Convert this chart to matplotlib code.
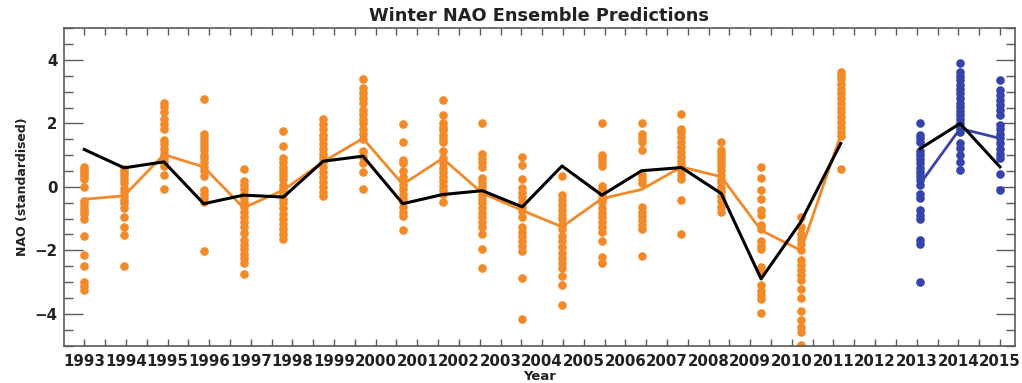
import numpy as np
import matplotlib.pyplot as plt
from matplotlib.ticker import MultipleLocator

# x axis labels (one per tick pair)
year_labels = [str(y) for y in range(1993, 2016)]

# data slots: 20 hindcast winters, a gap, then 3 forecast winters
hind_slots = list(range(0, 20))
fcst_slots = [21, 22, 23]

# observed NAO (black)
obs_hind = [1.18, 0.60, 0.79, -0.53, -0.26, -0.32, 0.81, 0.97, -0.53, -0.24,
            -0.12, -0.63, 0.66, -0.26, 0.51, 0.61, -0.21, -2.90, -1.10, 1.37]
obs_fcst = [1.21, 2.00, 0.63]

# ensemble means
ens_hind = [-0.39, -0.28, 1.02, 0.63, -0.66, -0.10, 0.79, 1.53, 0.08, 0.90,
            -0.20, -0.74, -1.26, -0.37, -0.08, 0.63, 0.32, -1.37, -2.00, 1.63]
ens_fcst = [0.11, 1.84, 1.53]

# ensemble members, hindcasts (orange)
members_hind = [
    [0.62, 0.55, 0.47, 0.40, 0.33, 0.25, 0.0, -0.45, -0.55, -0.65, -0.75, -0.85, -1.0,
     -1.55, -2.15, -2.5, -3.0, -3.12, -3.25],
    [0.58, 0.47, 0.37, 0.24, 0.11, -0.03, -0.16, -0.28, -0.42, -0.52, -0.68, -0.95,
     -1.26, -1.53, -2.5],
    [2.66, 2.53, 2.35, 2.14, 1.97, 1.84, 1.48, 1.34, 1.19, 1.05, 0.92, 0.79, 0.66,
     0.39, -0.07],
    [2.77, 1.68, 1.55, 1.42, 1.30, 1.16, 1.02, 0.90, 0.77, 0.63, 0.50, 0.35, -0.10,
     -0.21, -0.35, -0.47, -2.03],
    [0.58, 0.18, 0.05, -0.07, -0.21, -0.35, -0.47, -0.63, -0.79, -0.95, -1.11, -1.26,
     -1.44, -1.68, -1.84, -1.97, -2.11, -2.24, -2.39, -2.74],
    [1.76, 1.30, 0.90, 0.77, 0.63, 0.50, 0.37, 0.24, 0.07, -0.07, -0.21, -0.37, -0.52,
     -0.68, -0.84, -1.00, -1.16, -1.32, -1.48, -1.63],
    [2.14, 1.97, 1.82, 1.65, 1.51, 1.36, 1.21, 1.05, 0.92, 0.79, 0.63, 0.47, 0.32,
     0.16, 0.0, -0.16, -0.28],
    [3.40, 3.11, 2.95, 2.79, 2.63, 2.42, 2.29, 2.14, 2.00, 1.84, 1.68, 1.51, 1.13,
     0.95, 0.74, 0.47, -0.07],
    [1.97, 1.40, 0.84, 0.74, 0.50, 0.32, 0.18, 0.05, -0.07, -0.21, -0.35, -0.47,
     -0.63, -0.79, -0.92, -1.37],
    [2.74, 2.26, 2.00, 1.90, 1.79, 1.65, 1.51, 1.40, 1.13, 0.92, 0.74, 0.60, 0.47,
     0.32, 0.18, 0.03, -0.10, -0.21, -0.47],
    [2.03, 1.05, 0.92, 0.77, 0.63, 0.29, 0.16, 0.03, -0.10, -0.24, -0.37, -0.52,
     -0.66, -0.81, -0.95, -1.11, -1.26, -1.50, -1.97, -2.56],
    [0.95, 0.69, 0.24, -0.05, -0.18, -0.31, -0.47, -0.63, -0.77, -0.95, -1.26, -1.42,
     -1.55, -1.72, -1.87, -2.03, -2.88, -4.16],
    [0.35, -0.26, -0.42, -0.58, -0.74, -0.87, -1.00, -1.19, -1.34, -1.55, -1.72,
     -1.89, -2.07, -2.24, -2.39, -2.56, -2.81, -3.10, -3.72],
    [2.00, 1.02, 0.92, 0.79, 0.66, 0.03, -0.07, -0.21, -0.37, -0.49, -0.66, -0.81,
     -0.95, -1.11, -1.26, -1.42, -1.72, -2.21, -2.39],
    [2.03, 1.68, 1.53, 1.40, 1.16, 0.37, 0.24, 0.11, -0.63, -0.79, -0.92, -1.05,
     -1.19, -1.34, -2.18],
    [2.29, 1.84, 1.72, 1.58, 1.42, 1.26, 1.11, 0.95, 0.81, 0.69, 0.53, 0.39, 0.26,
     -0.42, -1.47],
    [1.42, 1.16, 1.05, 0.92, 0.79, 0.66, 0.53, 0.39, 0.26, 0.14, 0.0, -0.14, -0.28,
     -0.45, -0.63, -0.79],
    [0.63, 0.29, -0.10, -0.37, -0.74, -0.89, -1.19, -1.34, -1.69, -1.87, -1.97,
     -2.53, -2.69, -3.09, -3.27, -3.40, -3.53, -3.97],
    [-0.95, -1.26, -1.47, -1.63, -1.79, -2.00, -2.32, -2.47, -2.63, -2.79, -2.95,
     -3.21, -3.50, -3.90, -4.21, -4.42, -4.58, -4.98],
    [3.63, 3.53, 3.40, 3.23, 3.08, 2.95, 2.81, 2.66, 2.50, 2.35, 2.21, 2.06, 1.90,
     1.74, 1.61, 0.56],
]

# ensemble members, forecasts (blue)
members_fcst = [
    [2.00, 1.65, 1.53, 1.40, 1.13, 1.00, 0.87, 0.74, 0.60, 0.47, 0.35, 0.21, 0.07,
     -0.21, -0.35, -0.74, -0.89, -1.02, -1.68, -1.79, -3.00],
    [3.90, 3.63, 3.51, 3.37, 3.21, 3.08, 2.95, 2.81, 2.66, 2.53, 2.39, 2.26, 2.14,
     2.00, 1.86, 1.74, 1.37, 1.23, 1.02, 0.79, 0.53],
    [3.37, 3.06, 2.90, 2.74, 2.58, 2.42, 2.26, 1.95, 1.82, 1.68, 1.53, 1.37, 1.21,
     1.05, 0.90, 0.42, -0.10],
]

ORANGE = '#f28a2a'
BLUE = '#3644aa'
AXCOL = '#5a5a5a'
TXT = '#222222'

# slot -> x position on the label axis (24 slots spread over 23 labels)
def slot_x(s):
    return np.asarray(s, dtype=float) * 22.0 / 23.0

fig = plt.figure(figsize=(10.22, 3.83), dpi=100)
ax = fig.add_axes([0.0626, 0.0979, 0.9305, 0.8282])

# member dots
for s, vals in zip(hind_slots, members_hind):
    ax.plot(np.full(len(vals), slot_x(s)), vals, 'o', color=ORANGE, ms=6.2,
            mec='none', zorder=2)
for s, vals in zip(fcst_slots, members_fcst):
    ax.plot(np.full(len(vals), slot_x(s)), vals, 'o', color=BLUE, ms=6.2,
            mec='none', zorder=2)

# ensemble mean lines
ax.plot(slot_x(hind_slots), ens_hind, color=ORANGE, lw=2.0, zorder=3)
ax.plot(slot_x(fcst_slots), ens_fcst, color=BLUE, lw=2.0, zorder=3)

# observations
ax.plot(slot_x(hind_slots), obs_hind, color='black', lw=2.2, zorder=4)
ax.plot(slot_x(fcst_slots), obs_fcst, color='black', lw=2.2, zorder=4)

ax.set_xlim(-0.488, 22.36)
ax.set_ylim(-5, 5)

ax.set_xticks(range(len(year_labels)))
ax.set_xticklabels(year_labels, fontweight='bold', color=TXT)
ax.xaxis.set_minor_locator(MultipleLocator(0.5))
ax.yaxis.set_major_locator(MultipleLocator(2))
ax.yaxis.set_minor_locator(MultipleLocator(0.5))
for lab in ax.get_yticklabels():
    lab.set_fontweight('bold')
    lab.set_color(TXT)

ax.tick_params(axis='x', which='both', direction='in', top=True, length=5,
               width=1.0, color=AXCOL, labelsize=10.8, pad=6)
ax.tick_params(axis='y', which='major', direction='in', right=True, length=13.5,
               width=1.0, color=AXCOL, labelsize=10.8, pad=4.5)
ax.tick_params(axis='y', which='minor', direction='in', right=True, length=6.5,
               width=1.0, color=AXCOL)

for sp in ax.spines.values():
    sp.set_color(AXCOL)
    sp.set_linewidth(1.2)

ax.set_title('Winter NAO Ensemble Predictions', fontsize=12.8, fontweight='bold',
             color=TXT, pad=5)
ax.set_xlabel('Year', fontsize=9.5, fontweight='bold', color=TXT, labelpad=1)
ax.set_ylabel('NAO (standardised)', fontsize=9, fontweight='bold', color=TXT,
              labelpad=4)

fig.savefig('out.png', dpi=100)
